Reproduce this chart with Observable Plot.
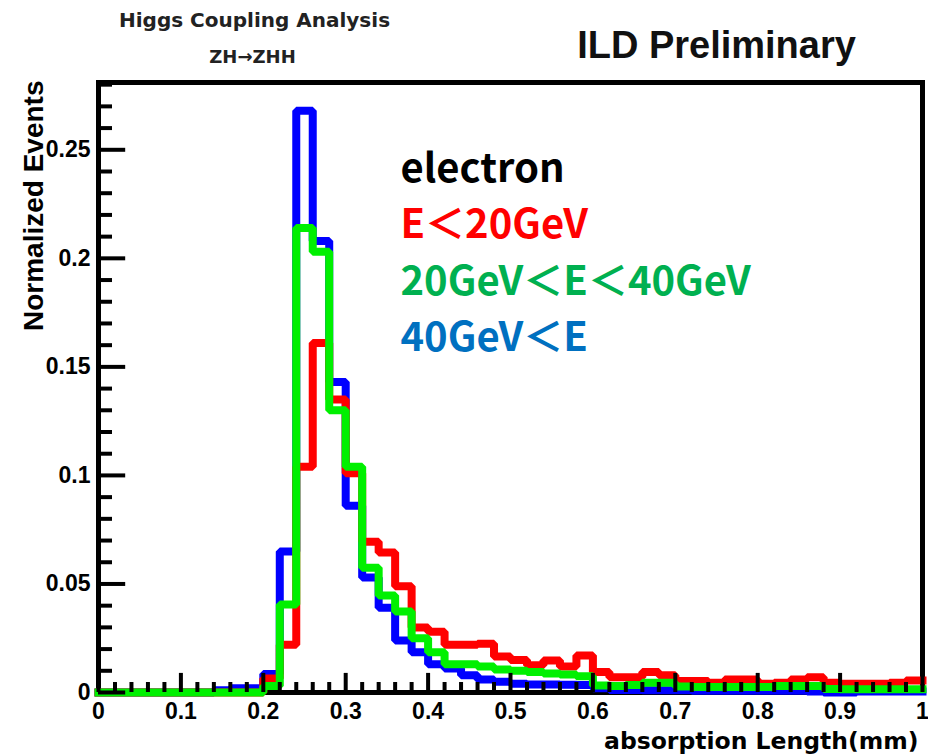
<!DOCTYPE html>
<html>
<head>
<meta charset="utf-8">
<script src="https://cdn.jsdelivr.net/npm/d3@7"></script>
<script src="https://cdn.jsdelivr.net/npm/@observablehq/plot@0.6"></script>
<style>
  body { margin: 0; background: #fff; }
  #chart svg { display: block; }
</style>
</head>
<body>
<div id="chart"></div>
<script>
// histogram: 50 bins de 0.02 entre 0 y 1
const binWidth = 0.02

const redValues = [
  0, 0, 0, 0, 0, 0, 0, 0, 0, 0,
  0.0065, 0.022, 0.104, 0.161, 0.135, 0.101, 0.0695, 0.0645, 0.049, 0.030,
  0.028, 0.022, 0.022, 0.0225, 0.0166, 0.015, 0.0125, 0.0147, 0.012, 0.017,
  0.0095, 0.007, 0.007, 0.0095, 0.008, 0.0053, 0.0053, 0.0045, 0.006, 0.006,
  0.004, 0.0045, 0.006, 0.007, 0.0045, 0.004, 0.004, 0.004, 0.0045, 0.0055
]
const greenValues = [
  0, 0, 0, 0, 0, 0, 0, 0, 0, 0,
  0.003, 0.0405, 0.214, 0.203, 0.130, 0.104, 0.0575, 0.0447, 0.0373, 0.025,
  0.0185, 0.013, 0.013, 0.012, 0.0106, 0.010, 0.0094, 0.0088, 0.0083, 0.0075,
  0.0032, 0.003, 0.0035, 0.0045, 0.0045, 0.0028, 0.0025, 0.0025, 0.0025, 0.0025,
  0.0025, 0.003, 0.003, 0.003, 0.0016, 0.0015, 0.0015, 0.0015, 0.0015, 0.0015
]
const blueValues = [
  0, 0, 0, 0, 0, 0, 0, 0.001, 0.002, 0.002,
  0.0085, 0.065, 0.268, 0.208, 0.143, 0.086, 0.053, 0.039, 0.024, 0.0185,
  0.013, 0.011, 0.008, 0.006, 0.005, 0.004, 0.0037, 0.0037, 0.0036, 0.0035,
  0.002, 0.0012, 0.0012, 0.001, 0.001, 0.001, 0.0008, 0.0008, 0.0008, 0.0008,
  0.0008, 0.0008, 0.0008, 0.0005, 0, 0, 0.0005, 0.0005, 0.0005, 0.0005
]

const xTicks = [0, 0.1, 0.2, 0.3, 0.4, 0.5, 0.6, 0.7, 0.8, 0.9, 1]
const yTicks = [0, 0.05, 0.1, 0.15, 0.2, 0.25]

const legendLabels = ["electron", "E＜20GeV", "20GeV＜E＜40GeV", "40GeV＜E"]
const legendColors = ["#000000", "#ff0000", "#00b050", "#0070c0"]

// puntos del contorno (step) de cada histograma
function steps(values) {
  const pts = values.map((v, i) => ({x: i * binWidth, y: v}))
  pts.push({x: values.length * binWidth, y: values[values.length - 1]})
  return pts
}

const xMinor = d3.range(51).filter(i => i % 5 != 0).map(i => i / 50)
const yMinor = d3.range(29).filter(i => i % 5 != 0).map(i => i / 100)

const histo = (values, color) => Plot.line(steps(values), {
  x: "x", y: "y", curve: "step-after",
  stroke: color, strokeWidth: 8, strokeLinejoin: "miter", strokeLinecap: "square"
})

const tickFont = {fontFamily: "Liberation Sans", fontWeight: "bold", fontSize: 23, fill: "black"}

let chart = Plot.plot({
  width: 928,
  height: 754,
  marginTop: 82,
  marginBottom: 62,
  marginLeft: 98,
  marginRight: 6,
  style: {background: "white", fontFamily: "Liberation Sans"},
  x: {domain: [0, 1]},
  y: {domain: [0, 0.281]},
  marks: [
    Plot.frame({stroke: "black", strokeWidth: 5}),
    histo(blueValues, "#0000ff"),
    histo(redValues, "#ff0000"),
    histo(greenValues, "#00f000"),
    // ticks hacia adentro, estilo ROOT
    Plot.ruleX(xMinor, {x: d => d, y1: 0, y2: 0.0046, stroke: "black", strokeWidth: 4}),
    Plot.ruleX(xTicks, {x: d => d, y1: 0, y2: 0.0088, stroke: "black", strokeWidth: 4}),
    Plot.ruleY(yMinor, {y: d => d, x1: 0, x2: 0.017, stroke: "black", strokeWidth: 4}),
    Plot.ruleY(yTicks, {y: d => d, x1: 0, x2: 0.033, stroke: "black", strokeWidth: 4}),
    Plot.axisX(xTicks, {tickSize: 0, tickPadding: 10, tickFormat: d => String(d), label: null, ...tickFont}),
    Plot.axisY(yTicks, {tickSize: 0, tickPadding: 8, tickFormat: d => String(d), label: null, ...tickFont}),
    // titulos de ejes
    Plot.text(["absorption Length(mm)"], {
      text: d => d, frameAnchor: "bottom-right", textAnchor: "end", dx: -4, dy: 56,
      fontFamily: "DejaVu Sans", fontWeight: "bold", fontSize: 23.5, fill: "black"
    }),
    Plot.text(["Normalized Events"], {
      text: d => d, frameAnchor: "top-left", textAnchor: "end", rotate: -90, dx: -75, dy: -2,
      fontFamily: "Liberation Sans", fontWeight: "bold", fontSize: 28, fill: "black"
    }),
    // titulos de arriba
    Plot.text(["Higgs Coupling Analysis"], {
      text: d => d, frameAnchor: "top-left", textAnchor: "middle", dx: 156, dy: -62, lineAnchor: "middle",
      fontFamily: "DejaVu Sans", fontWeight: "bold", fontSize: 20, fill: "#222"
    }),
    Plot.text(["ZH→ZHH"], {
      text: d => d, frameAnchor: "top-left", textAnchor: "middle", dx: 154, dy: -25, lineAnchor: "middle",
      fontFamily: "DejaVu Sans", fontWeight: "bold", fontSize: 18, fill: "#222"
    }),
    Plot.text(["ILD Preliminary"], {
      text: d => d, frameAnchor: "top-left", textAnchor: "middle", dx: 618, dy: -37, lineAnchor: "middle",
      fontFamily: "Liberation Sans", fontWeight: "bold", fontSize: 38, fill: "#111"
    }),
    // leyenda
    ...legendLabels.map((t, i) => Plot.text([t], {
      text: d => d, frameAnchor: "top-left", textAnchor: "start", lineAnchor: "bottom",
      dx: 302, dy: 99 + i * 56.5,
      fontFamily: "Noto Sans CJK JP", fontWeight: "bold", fontSize: 40, fill: legendColors[i]
    }))
  ]
})

d3.select('#chart').append(() => chart)
</script>
</body>
</html>
